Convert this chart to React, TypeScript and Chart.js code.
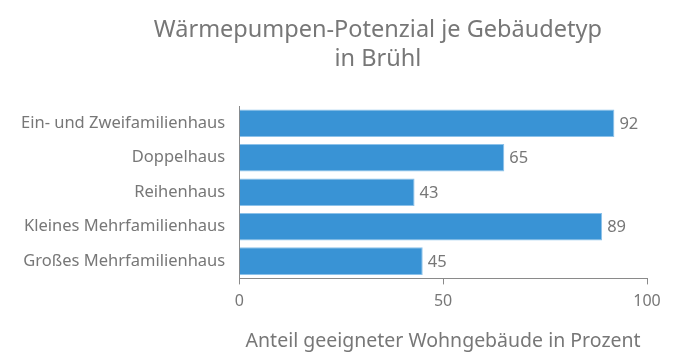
import React, { useEffect, useRef } from "react";
import { Chart, registerables } from "chart.js";

Chart.register(...registerables);

const titleLines = ["Wärmepumpen-Potenzial je Gebäudetyp", "in Brühl"];
const categories = [
  "Ein- und Zweifamilienhaus",
  "Doppelhaus",
  "Reihenhaus",
  "Kleines Mehrfamilienhaus",
  "Großes Mehrfamilienhaus",
];
const values = [92, 65, 43, 89, 45];
const xTitle = "Anteil geeigneter Wohngebäude in Prozent";
const xMin = 0;
const xMax = 100;
const xStep = 50;

const FONT = "'Noto Sans', sans-serif";
const TEXT = "#777777";
const AXIS = "#8a8a8a";

const titlePlugin = {
  id: "customTitle",
  afterDraw(chart: any) {
    const ctx = chart.ctx;
    ctx.save();
    ctx.fillStyle = TEXT;
    ctx.font = `23.5px ${FONT}`;
    ctx.textAlign = "center";
    ctx.textBaseline = "alphabetic";
    const cx = chart.width * 0.55;
    titleLines.forEach((line, i) => {
      ctx.fillText(line, cx, 37 + i * 29);
    });
    ctx.restore();
  },
};

const valueLabels = {
  id: "valueLabels",
  afterDatasetsDraw(chart: any) {
    const ctx = chart.ctx;
    ctx.save();
    ctx.fillStyle = TEXT;
    ctx.font = `16.5px ${FONT}`;
    ctx.textAlign = "left";
    ctx.textBaseline = "middle";
    const meta = chart.getDatasetMeta(0);
    meta.data.forEach((bar: any, i: number) => {
      ctx.fillText(String(values[i]), bar.x + 5, bar.y + 1);
    });
    ctx.restore();
  },
};

export default function App() {
  const ref = useRef<HTMLCanvasElement>(null);
  useEffect(() => {
    document.body.style.margin = "0";
    const chart = new Chart(ref.current!, {
      type: "bar",
      data: {
        labels: categories,
        datasets: [
          {
            data: values,
            backgroundColor: "#3993d5",
            borderColor: "#8cc2ea",
            borderWidth: 1,
            barPercentage: 0.8,
            categoryPercentage: 1,
          },
        ],
      },
      options: {
        indexAxis: "y",
        responsive: false,
        animation: false,
        layout: { padding: { left: 7, right: 40, top: 106, bottom: 10 } },
        plugins: {
          legend: { display: false },
          tooltip: { enabled: false },
          title: { display: false },
        },
        scales: {
          x: {
            min: xMin,
            max: xMax,
            ticks: {
              stepSize: xStep,
              color: TEXT,
              font: { family: FONT, size: 16 },
              padding: 7,
            },
            grid: {
              drawOnChartArea: false,
              drawTicks: true,
              tickLength: 6,
              color: AXIS,
            },
            border: { display: true, color: AXIS, width: 1 },
            title: {
              display: true,
              text: xTitle,
              color: TEXT,
              font: { family: FONT, size: 19.5 },
              padding: { top: 12, bottom: 0 },
            },
          },
          y: {
            ticks: {
              color: TEXT,
              font: { family: FONT, size: 16.5 },
              padding: 14,
            },
            grid: { display: false, drawTicks: false },
            border: { display: true, color: AXIS, width: 1 },
          },
        },
      },
      plugins: [titlePlugin, valueLabels],
    });
    return () => chart.destroy();
  }, []);
  return (
    <div style={{ width: 687, height: 363, background: "#fff" }}>
      <canvas ref={ref} width={687} height={363} />
    </div>
  );
}
